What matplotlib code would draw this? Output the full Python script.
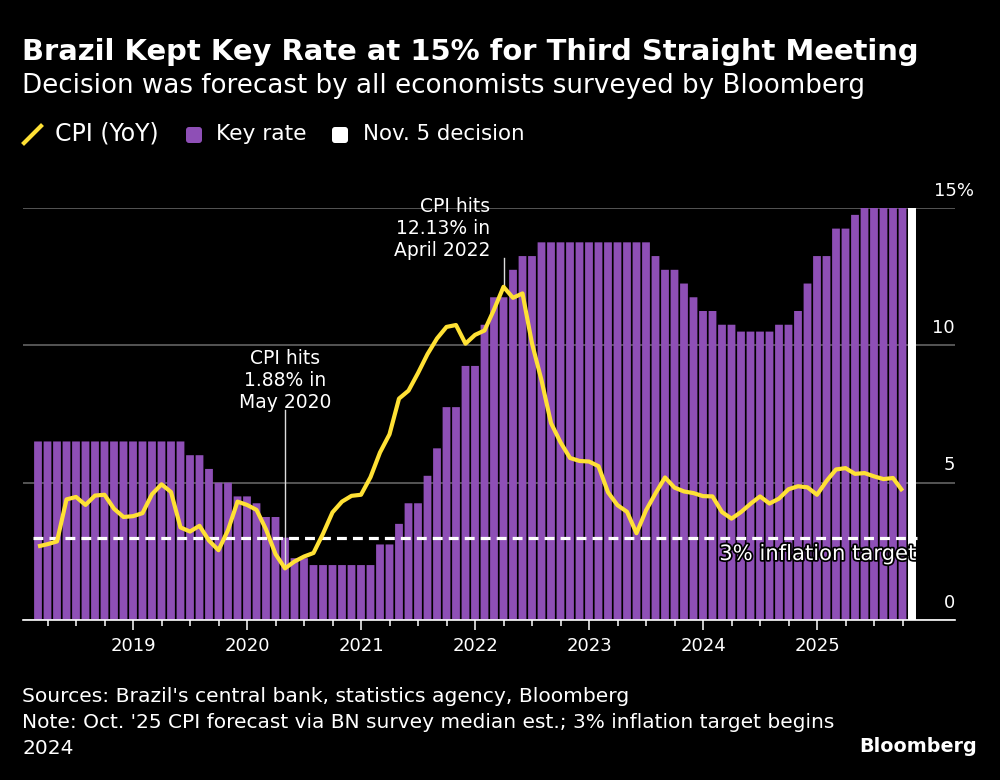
import matplotlib
matplotlib.use("Agg")
import matplotlib.pyplot as plt
import matplotlib.patheffects as pe
from matplotlib.lines import Line2D
from matplotlib.patches import FancyBboxPatch
from matplotlib.transforms import ScaledTranslation, Affine2D

# Monthly values, Mar 2018 to Oct 2025
cpi = [2.68, 2.76, 2.86, 4.39, 4.48, 4.19, 4.53, 4.56, 4.05, 3.75,
       3.78, 3.89, 4.58, 4.94, 4.66, 3.37, 3.22, 3.43, 2.89, 2.54, 3.27, 4.31,
       4.19, 4.01, 3.30, 2.40, 1.88, 2.13, 2.31, 2.44, 3.14, 3.92, 4.31, 4.52,
       4.56, 5.20, 6.10, 6.76, 8.06, 8.35, 8.99, 9.68, 10.25, 10.67, 10.74, 10.06,
       10.38, 10.54, 11.30, 12.13, 11.73, 11.89, 10.07, 8.73, 7.17, 6.47, 5.90, 5.79,
       5.77, 5.60, 4.65, 4.18, 3.94, 3.16, 3.99, 4.61, 5.19, 4.82, 4.68, 4.62,
       4.51, 4.50, 3.93, 3.69, 3.93, 4.23, 4.50, 4.24, 4.42, 4.76, 4.87, 4.83,
       4.56, 5.06, 5.48, 5.53, 5.32, 5.35, 5.23, 5.13, 5.17, 4.70]
key_rate = [6.5] * 16 + [6.0, 6.0, 5.5, 5.0, 5.0, 4.5, 4.5, 4.25, 3.75, 3.75, 3.0, 2.25, 2.25] + \
           [2.0] * 7 + [2.75, 2.75, 3.5, 4.25, 4.25, 5.25, 6.25, 7.75, 7.75, 9.25, 9.25,
                        10.75, 11.75, 11.75, 12.75, 13.25, 13.25] + \
           [13.75] * 12 + [13.25, 12.75, 12.75, 12.25, 11.75, 11.25, 11.25, 10.75, 10.75,
                           10.5, 10.5, 10.5, 10.5, 10.75, 10.75, 11.25, 12.25, 13.25, 13.25,
                           14.25, 14.25, 14.75, 15, 15, 15, 15, 15]
decision_rate = 15
target = 3
years = [2019, 2020, 2021, 2022, 2023, 2024, 2025]
y_ticks = [0, 5, 10, 15]
y_labels = ["0", "5", "10", "15%"]

PURPLE = "#8E4FB6"
YELLOW = "#FFE135"
W, H = 1000, 780
months = list(range(len(cpi)))
first_year = 2018
first_month = 3
def idx(year, month=1):
    return (year - first_year) * 12 + month - first_month

fig = plt.figure(figsize=(W / 100, H / 100), dpi=100, facecolor="black")
plt.rcParams["font.family"] = "DejaVu Sans"
ax = fig.add_axes([23 / W, 1 - 620 / H, 932 / W, 412 / H], facecolor="black")
ax.set_xlim(-15 / 9.5, (955 - 38) / 9.5)
ax.set_ylim(0, 15)
for s in ["top", "left", "right"]:
    ax.spines[s].set_visible(False)
ax.spines["bottom"].set_color("white")
ax.spines["bottom"].set_linewidth(1.2)

ax.set_axisbelow(True)
ax.grid(axis="y", color="#555555", lw=1.4)
for bar in ax.bar(months, key_rate, width=0.82, color=PURPLE, zorder=2):
    bar.set_snap(False)
for bar in ax.bar([len(cpi)], [decision_rate], width=0.84, color="white", zorder=2):
    bar.set_snap(False)
ax.plot([-0.5, len(cpi) + 0.5], [target, target], color="white", lw=2.3,
        dashes=(3.1, 1.9), zorder=3)
ax.plot(months, cpi, color=YELLOW, lw=3, zorder=5, solid_joinstyle="round", solid_capstyle="butt")

# Ticks
ax.set_xticks([idx(y) for y in years])
ax.set_xticklabels([str(y) for y in years], color="white", fontsize=13)
ax.set_xticks([i for i in range(len(cpi)) if (i + first_month - 1) % 3 == 0 and (i + first_month - 1) % 12 != 0], minor=True)
ax.tick_params(axis="x", which="major", length=7.5, width=1.1, color="white", pad=5)
ax.tick_params(axis="x", which="minor", length=4.5, width=1.1, color="white")

ax.yaxis.tick_right()
ax.set_yticks(y_ticks)
ax.set_yticklabels(y_labels, color="white", fontsize=13)
ax.tick_params(axis="y", length=0, pad=0)
for lab, v in zip(ax.get_yticklabels(), y_ticks):
    lab.set_ha("right")
    dx = 19 / 100 if v == 15 else 0
    lab.set_transform(lab.get_transform() + ScaledTranslation(dx, 19.5 / 100, fig.dpi_scale_trans))

# Annotations
ax.plot([idx(2020, 5)] * 2, [1.88, (620 - 410) / 27.47], color="#dddddd", lw=1, zorder=4)
ax.text(idx(2020, 5), (620 - 412) / 27.47, "CPI hits\n1.88% in\nMay 2020", color="white", fontsize=13.5,
        ha="center", va="bottom", linespacing=1.2, zorder=6)
ax.plot([idx(2022, 4)] * 2, [12.13, (620 - 258) / 27.47], color="#dddddd", lw=1, zorder=4)
ax.annotate("CPI hits\n12.13% in\nApril 2022", xy=(idx(2022, 4), (620 - 260) / 27.47), xytext=(-13, 0),
            textcoords="offset pixels", color="white", fontsize=13.5, ha="right", va="bottom",
            linespacing=1.2, annotation_clip=False, zorder=6)
ax.text(len(cpi) + 0.45, (620 - 554) / 27.47, "3% inflation target", color="white", fontsize=15.2,
        ha="right", va="center", zorder=6,
        path_effects=[pe.withStroke(linewidth=2.5, foreground="black")])

# Heading
fig.text(22 / W, 1 - 52 / H, "Brazil Kept Key Rate at 15% for Third Straight Meeting", color="white",
         fontsize=20.9, fontweight="bold", ha="left", va="center")
fig.text(22 / W, 1 - 86 / H, "Decision was forecast by all economists surveyed by Bloomberg", color="white",
         fontsize=18.85, ha="left", va="center")

# Legend
fig.add_artist(Line2D([24 / W, 41 / W], [1 - 143 / H, 1 - 126 / H], color=YELLOW, lw=3))
for x0, c in [(186, PURPLE), (332, "white")]:
    box = FancyBboxPatch((x0 + 2, 129), 12, 12, boxstyle="round,pad=2,rounding_size=3",
                         fc=c, ec="none")
    box.set_transform(Affine2D().scale(1, -1).translate(0, H))
    fig.add_artist(box)
for x0, t, fs in [(55, "CPI (YoY)", 17), (216, "Key rate", 15.7), (363, "Nov. 5 decision", 15.4)]:
    fig.text(x0 / W, 1 - 134 / H, t, color="white", fontsize=fs, ha="left", va="center")

# Footer
fig.text(22 / W, 1 - 697 / H, "Sources: Brazil's central bank, statistics agency, Bloomberg", color="white",
         fontsize=14.6, ha="left", va="center")
fig.text(22 / W, 1 - 722 / H, "Note: Oct. '25 CPI forecast via BN survey median est.; 3% inflation target begins",
         color="white", fontsize=14.5, ha="left", va="center")
fig.text(22 / W, 1 - 749 / H, "2024", color="white", fontsize=14.5, ha="left", va="center")
fig.text(977 / W, 1 - 746 / H, "Bloomberg", color="white", fontsize=13.8, fontweight="bold", ha="right", va="center")

fig.savefig("out.png", dpi=100, facecolor="black")
